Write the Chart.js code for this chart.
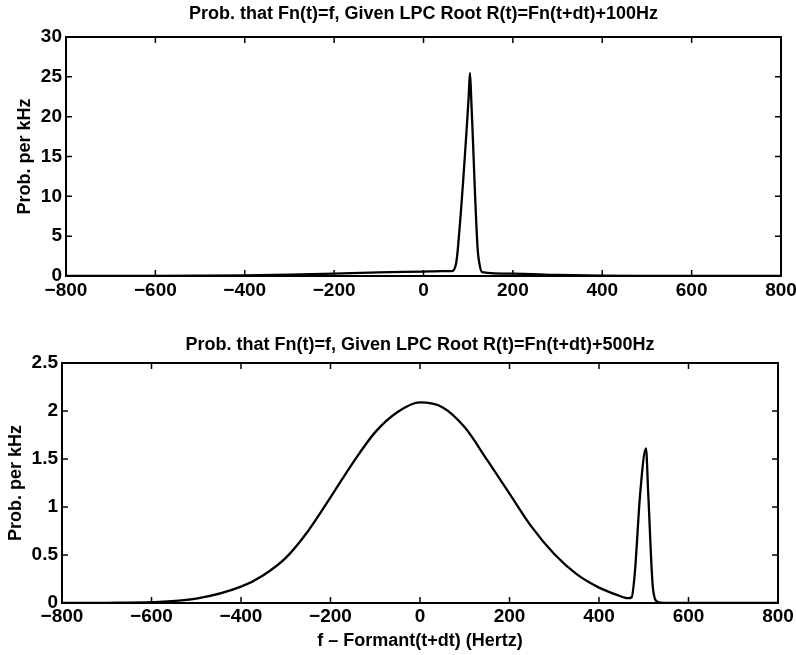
<!DOCTYPE html>
<html>
<head>
<meta charset="utf-8">
<script src="https://cdn.jsdelivr.net/npm/chart.js@4.4.1/dist/chart.umd.min.js"></script>
<style>
  body { margin: 0; background: #fff; }
  .panel { position: absolute; left: 0; width: 796px; }
  #top-wrap { top: 0; height: 310px; }
  #bot-wrap { top: 320px; height: 335px; }
</style>
</head>
<body>
<div class="panel" id="top-wrap"><canvas id="topChart"></canvas></div>
<div class="panel" id="bot-wrap"><canvas id="botChart"></canvas></div>
<script>
// values
const topFreq = [-800, -700, -600, -500, -400, -300, -200, -100, 0, 40, 64, 73, 77, 101, 104, 107, 121, 125, 131, 200, 300, 400, 500, 600, 800];
const topProb = [0, 0.005, 0.01, 0.03, 0.07, 0.16, 0.3, 0.45, 0.55, 0.6, 0.62, 1.6, 3.5, 22.4, 25.5, 22, 3.5, 1.6, 0.5, 0.3, 0.13, 0.03, 0.01, 0, 0];

const botFreq = [-800, -700, -600, -500, -400, -350, -300, -250, -200, -150, -100, -50, 0, 50, 100, 150, 200, 250, 300, 350, 400, 440, 465, 473, 480, 492, 505, 510, 521, 532, 560, 600, 800];
const botProb = [0, 0.002, 0.008, 0.045, 0.17, 0.29, 0.47, 0.75, 1.10, 1.46, 1.78, 1.99, 2.09, 2.04, 1.83, 1.49, 1.14, 0.79, 0.51, 0.30, 0.16, 0.085, 0.05, 0.06, 0.31, 1.14, 1.61, 1.14, 0.135, 0.01, 0, 0, 0];

const topTitle = 'Prob. that Fn(t)=f, Given LPC Root R(t)=Fn(t+dt)+100Hz';
const botTitle = 'Prob. that Fn(t)=f, Given LPC Root R(t)=Fn(t+dt)+500Hz';
const yLabel = 'Prob. per kHz';
const xLabel = 'f \u2013 Formant(t+dt) (Hertz)';
const xRange = [-800, 800], xStep = 200;
const topYRange = [0, 30], topYStep = 5;
const botYRange = [0, 2.5], botYStep = 0.5;

const FONT = "'Liberation Sans', Arial, sans-serif";
const minus = v => String(v).replace('-', '\u2212');

// matlab style box with inward ticks on all four sides
const frameTicks = {
    id: 'frameTicks',
    afterDatasetsDraw(chart) {
        const { ctx, chartArea: a, scales: { x, y } } = chart;
        ctx.save();
        ctx.strokeStyle = '#000';
        ctx.lineWidth = 1.5;
        ctx.beginPath();
        x.ticks.forEach(t => {
            const px = x.getPixelForValue(t.value);
            ctx.moveTo(px, a.bottom); ctx.lineTo(px, a.bottom - 6);
            ctx.moveTo(px, a.top); ctx.lineTo(px, a.top + 6);
        });
        y.ticks.forEach(t => {
            const py = y.getPixelForValue(t.value);
            ctx.moveTo(a.left, py); ctx.lineTo(a.left + 6, py);
            ctx.moveTo(a.right, py); ctx.lineTo(a.right - 6, py);
        });
        ctx.stroke();
        ctx.lineWidth = 2;
        ctx.strokeRect(a.left, a.top, a.right - a.left, a.bottom - a.top);
        ctx.restore();
    }
};

function makeChart(id, freqs, probs, opt) {
    const points = freqs.map((f, i) => ({ x: f, y: probs[i] }));
    return new Chart(document.getElementById(id), {
        type: 'line',
        data: {
            datasets: [{
                data: points,
                borderColor: '#000',
                borderWidth: 2.3,
                pointRadius: 0,
                cubicInterpolationMode: 'monotone',
                fill: false
            }]
        },
        options: {
            responsive: true,
            maintainAspectRatio: false,
            animation: false,
            layout: { padding: { left: 0, right: opt.padRight, top: 0, bottom: 0 } },
            plugins: {
                legend: { display: false },
                tooltip: { enabled: false }
            },
            scales: {
                x: {
                    type: 'linear',
                    min: xRange[0], max: xRange[1],
                    grid: { display: false, drawTicks: false },
                    border: { display: false },
                    ticks: {
                        stepSize: xStep,
                        color: '#000',
                        padding: opt.xTickPad,
                        maxRotation: 0,
                        font: { family: FONT, size: 19, weight: 'bold', lineHeight: 1 },
                        callback: minus
                    },
                    title: opt.xTitle ? {
                        display: true, text: opt.xTitle, color: '#000',
                        font: { family: FONT, size: 18, weight: 'bold', lineHeight: 1 },
                        padding: { top: 5, bottom: 5 }
                    } : { display: false },
                    afterFit(s) { s.height = opt.xHeight; s.paddingLeft = 0; s.paddingRight = 0; }
                },
                // top axis only carries the panel title, centred over the plot box
                xTop: {
                    type: 'linear',
                    position: 'top',
                    min: xRange[0], max: xRange[1],
                    grid: { display: false, drawTicks: false },
                    border: { display: false },
                    ticks: { display: false },
                    title: {
                        display: true, text: opt.title, color: '#000',
                        font: { family: FONT, size: 18, weight: 'bold', lineHeight: 1 },
                        padding: { top: opt.titleTop, bottom: 0 }
                    },
                    afterFit(s) { s.height = opt.topHeight; s.paddingLeft = 0; s.paddingRight = 0; }
                },
                y: {
                    min: opt.yRange[0], max: opt.yRange[1],
                    grid: { display: false, drawTicks: false },
                    border: { display: false },
                    ticks: {
                        stepSize: opt.yStep,
                        color: '#000',
                        padding: 4,
                        font: { family: FONT, size: 19, weight: 'bold', lineHeight: 1 },
                        callback: v => String(v)
                    },
                    title: {
                        display: true, text: yLabel, color: '#000',
                        font: { family: FONT, size: 18, weight: 'bold', lineHeight: 1 },
                        padding: { top: opt.yTitlePad, bottom: opt.yTitlePad }
                    },
                    afterFit(s) { s.width = opt.yWidth; }
                }
            }
        },
        plugins: [frameTicks]
    });
}

makeChart('topChart', topFreq, topProb, {
    title: topTitle,
    titleTop: 5,
    topHeight: 37,
    padRight: 15,
    yWidth: 66,
    yTitlePad: 16,
    xHeight: 34,
    xTickPad: 5,
    yRange: topYRange, yStep: topYStep
});

makeChart('botChart', botFreq, botProb, {
    title: botTitle,
    titleTop: 16,
    topHeight: 43,
    padRight: 18,
    yWidth: 62,
    yTitlePad: 7,
    xHeight: 52,
    xTickPad: 4,
    xTitle: xLabel,
    yRange: botYRange, yStep: botYStep
});
</script>
</body>
</html>
